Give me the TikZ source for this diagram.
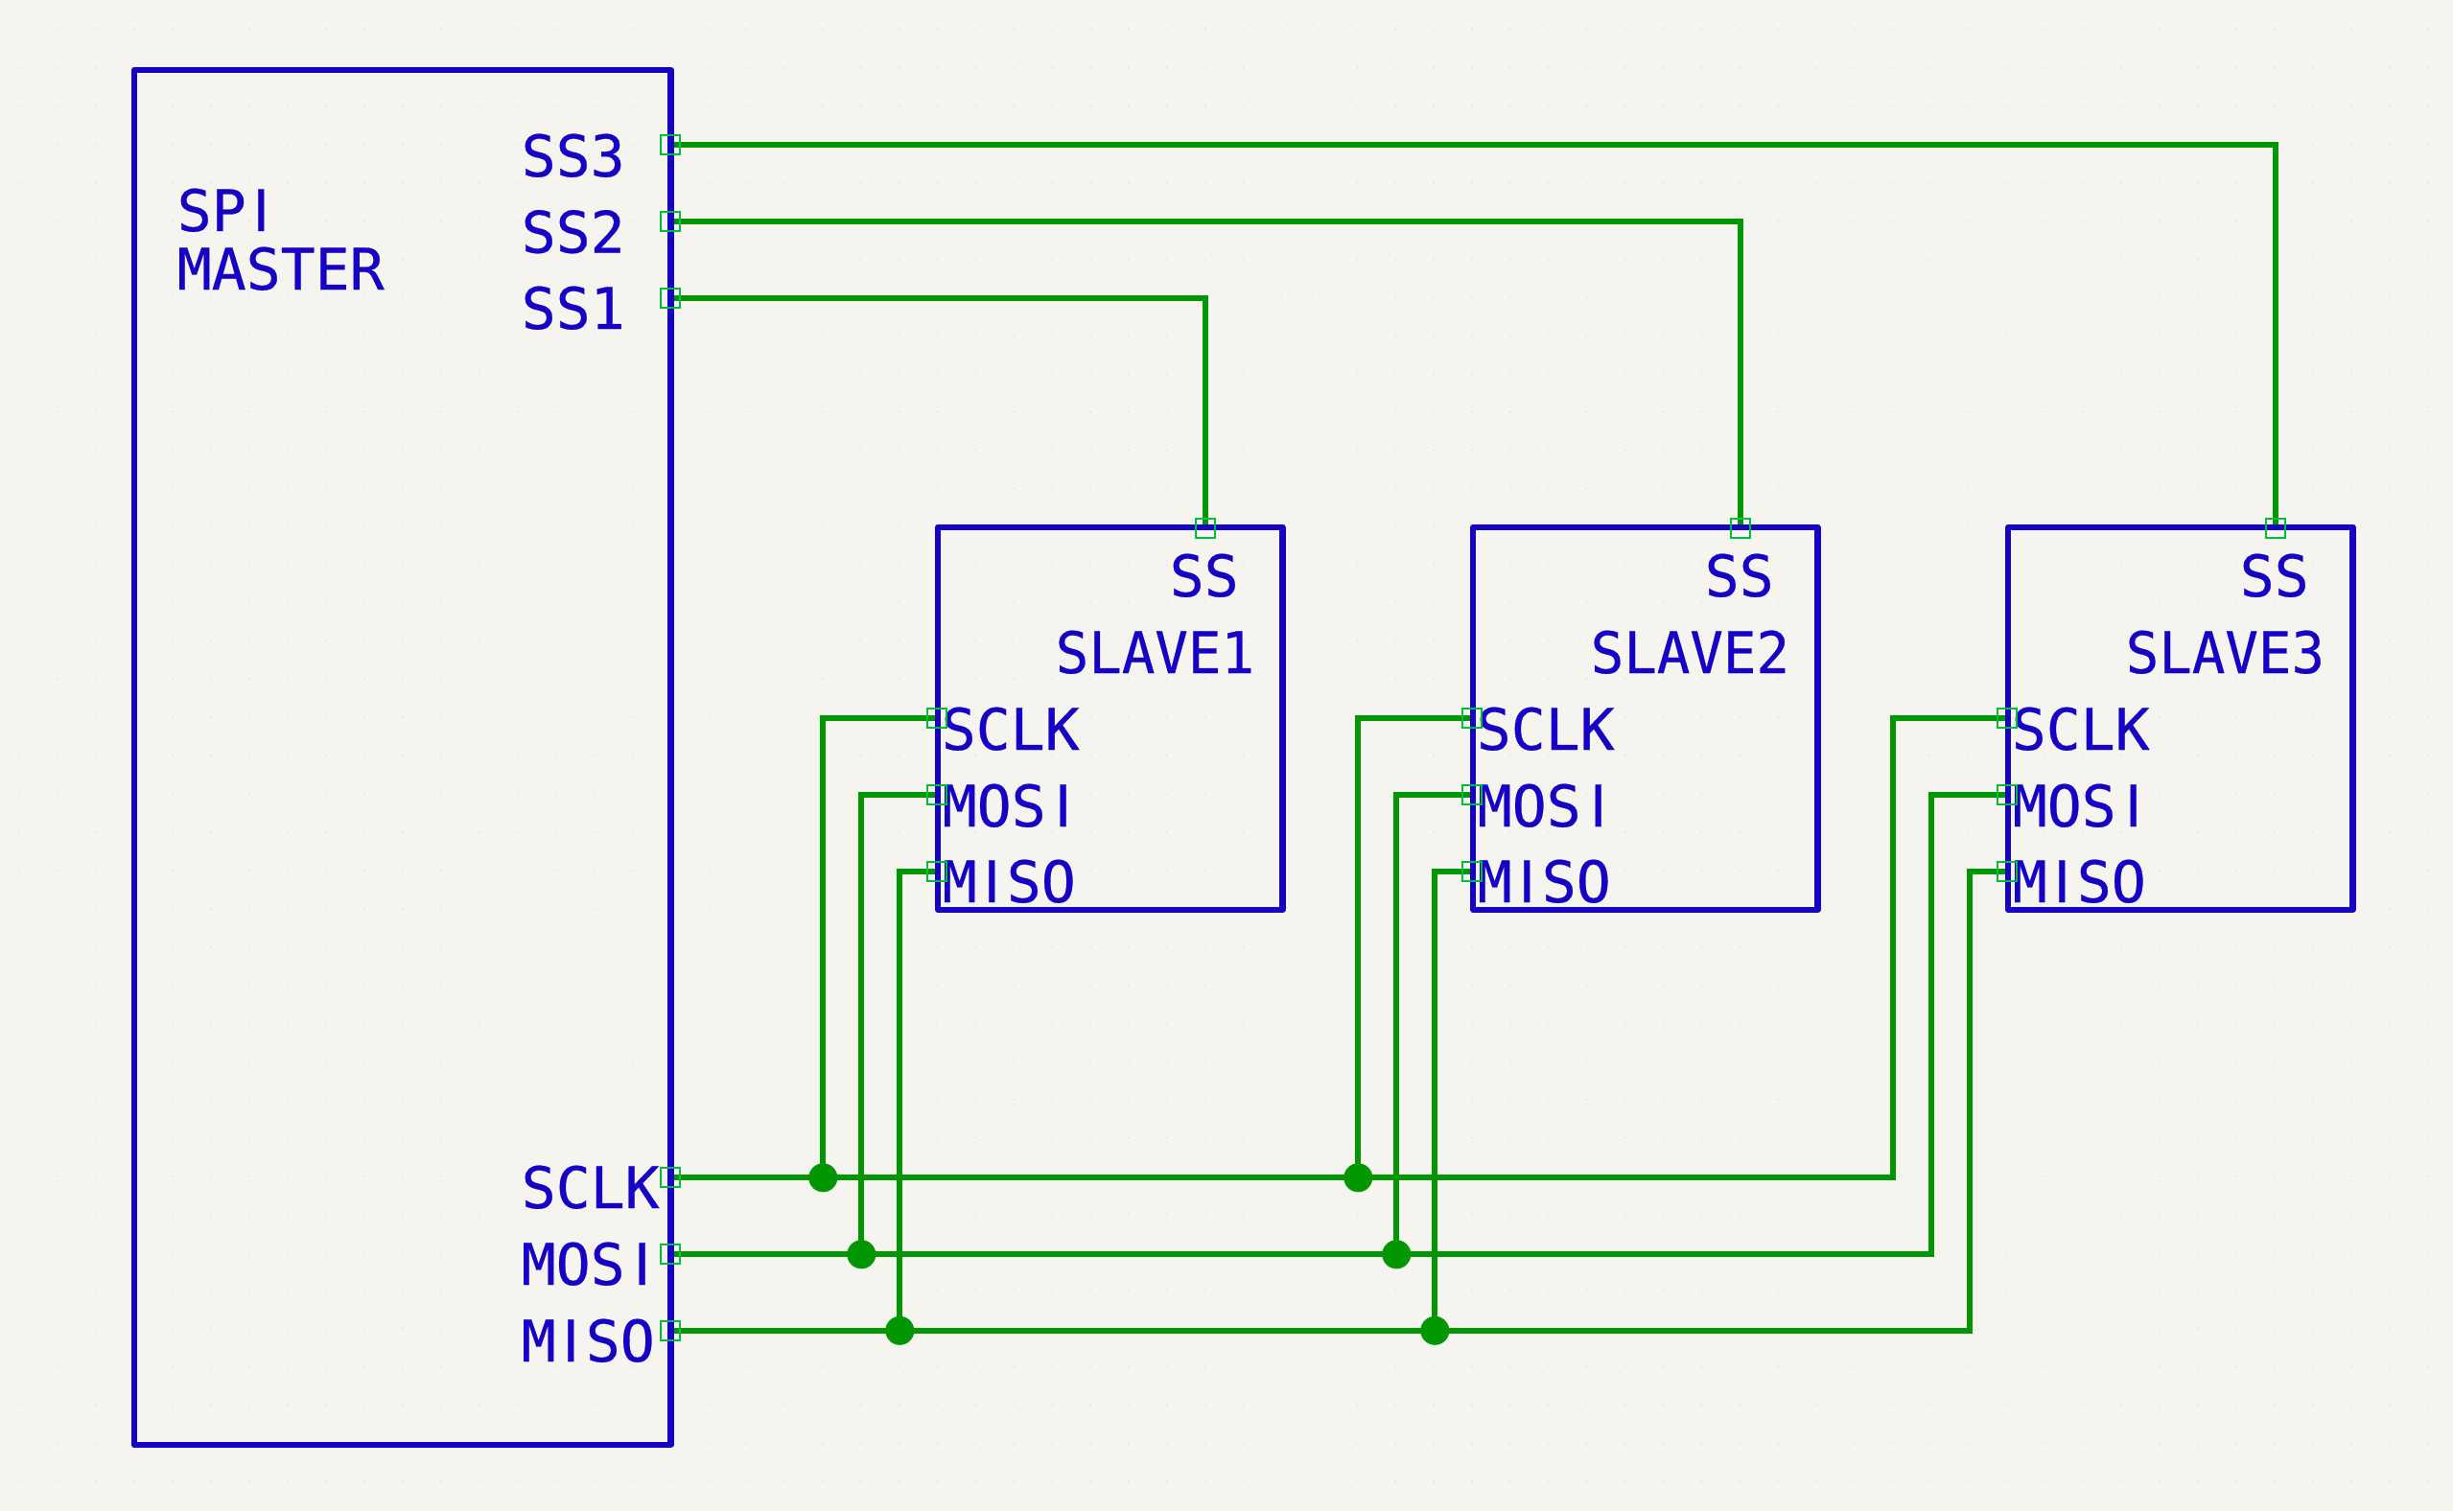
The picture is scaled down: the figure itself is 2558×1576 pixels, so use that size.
\documentclass[tikz,border=0pt]{standalone}
\usepackage{fontspec}
\usetikzlibrary{backgrounds}
\newfontfamily\pinfont[FakeBold=0.45]{DejaVu Sans Mono}
\newfontfamily\slavefont[FakeBold=0.45,FakeStretch=0.96]{DejaVu Sans Mono}
\newfontfamily\plainfont[FakeBold=0.45]{DejaVu Sans}
\newcommand{\plainI}{\makebox[0.602em]{\plainfont I}}
\newcommand{\tightI}{\makebox[0.52em]{\plainfont I}}
\definecolor{paper}{HTML}{F5F4EF}
\definecolor{chipblue}{HTML}{1600C4}
\definecolor{netgreen}{HTML}{009600}
\definecolor{pingreen}{HTML}{00B941}
\definecolor{griddot}{HTML}{D6D5D0}
\tikzset{
	chip/.style={draw=chipblue, line width=1.75pt, line join=round, inner sep=0pt},
	lbl/.style={anchor=base west, inner sep=0pt, text=chipblue, font=\pinfont\fontsize{17}{17}\selectfont},
	slavelbl/.style={lbl, font=\slavefont\fontsize{17}{17}\selectfont},
	pinbox/.style={draw=pingreen, line width=0.6pt, inner sep=0pt, minimum size=0.2cm},
	wire/.style={draw=netgreen, line width=1.65pt},
	junction/.style={circle, fill=netgreen, inner sep=0pt, minimum size=0.3cm}
}
\begin{document}
\begin{tikzpicture}[x=0.01cm, y=-0.01cm]
	\useasboundingbox (0,0) rectangle (2558,1576);

	% master
	\node[chip, minimum width=5.59cm, minimum height=14.33cm] (master) at (419.8,789.8) {};
	\node[lbl] (tspi) at (184,241) {SP\tightI};
	\node[lbl] (tmaster) at (184,302) {MASTER};
	\node[lbl] (tss3) at (543,184) {SS3};
	\node[lbl] (tss2) at (543,263.5) {SS2};
	\node[lbl] (tss1) at (543,343) {SS1};
	\node[lbl] (tsclk) at (543,1260) {SCLK};
	\node[lbl] (tmosi) at (543,1340) {MOS\plainI};
	\node[lbl] (tmiso) at (543,1420) {M\tightI SO};
	\node[pinbox] (mss3) at (698.7,150.8) {};
	\node[pinbox] (mss2) at (698.7,230.8) {};
	\node[pinbox] (mss1) at (698.7,310.8) {};
	\node[pinbox] (msclk) at (698.7,1228.3) {};
	\node[pinbox] (mmosi) at (698.7,1308.3) {};
	\node[pinbox] (mmiso) at (698.7,1387.8) {};

	% slave 1
	\node[chip, minimum width=3.59cm, minimum height=3.99cm] (slave1) at (1157.8,749.3) {};
	\node[lbl] at (1219,622) {SS};
	\node[slavelbl] at (1100,702) {SLAVE1};
	\node[lbl] at (981,782) {SCLK};
	\node[lbl] at (982,862) {MOS\plainI};
	\node[lbl] at (982,941) {M\tightI SO};
	\node[pinbox] (ass) at (1256.8,550.8) {};
	\node[pinbox] (asclk) at (977.3,749.3) {};
	\node[pinbox] (amosi) at (977.3,829.3) {};
	\node[pinbox] (amiso) at (977.3,909.3) {};

	% slave 2
	\node[chip, minimum width=3.59cm, minimum height=3.99cm] (slave2) at (1715.8,749.3) {};
	\node[lbl] at (1777,622) {SS};
	\node[slavelbl] at (1658,702) {SLAVE2};
	\node[lbl] at (1539,782) {SCLK};
	\node[lbl] at (1540,862) {MOS\plainI};
	\node[lbl] at (1540,941) {M\tightI SO};
	\node[pinbox] (bss) at (1814.8,550.8) {};
	\node[pinbox] (bsclk) at (1535.3,749.3) {};
	\node[pinbox] (bmosi) at (1535.3,829.3) {};
	\node[pinbox] (bmiso) at (1535.3,909.3) {};

	% slave 3
	\node[chip, minimum width=3.59cm, minimum height=3.99cm] (slave3) at (2273.8,749.3) {};
	\node[lbl] at (2335,622) {SS};
	\node[slavelbl] at (2216,702) {SLAVE3};
	\node[lbl] at (2097,782) {SCLK};
	\node[lbl] at (2098,862) {MOS\plainI};
	\node[lbl] at (2098,941) {M\tightI SO};
	\node[pinbox] (css) at (2372.8,550.8) {};
	\node[pinbox] (csclk) at (2093.3,749.3) {};
	\node[pinbox] (cmosi) at (2093.3,829.3) {};
	\node[pinbox] (cmiso) at (2093.3,909.3) {};

	% junctions
	\node[junction] (j1) at (858.3,1228.3) {};
	\node[junction] (j2) at (898.3,1308.3) {};
	\node[junction] (j3) at (938.3,1387.8) {};
	\node[junction] (j4) at (1416.3,1228.3) {};
	\node[junction] (j5) at (1456.3,1308.3) {};
	\node[junction] (j6) at (1496.3,1387.8) {};

	\begin{scope}[on background layer]
		\fill[paper] (0,0) rectangle (2558,1576);
		\foreach \gx in {0,...,63} \foreach \gy in {0,...,39}
			\fill[griddot] (21+39.85*\gx,31+39.85*\gy) circle (0.7);

		\path[wire] (mss3.center) -| (css.center);
		\path[wire] (mss2.center) -| (bss.center);
		\path[wire] (mss1.center) -| (ass.center);
		\path[wire] (msclk.center) -- (j1.center) -- (j4.center) -| (1974.3,1000) |- (csclk.center);
		\path[wire] (mmosi.center) -- (j2.center) -- (j5.center) -| (2014.3,1000) |- (cmosi.center);
		\path[wire] (mmiso.center) -- (j3.center) -- (j6.center) -| (2054.3,1000) |- (cmiso.center);
		\path[wire] (j1.center) |- (asclk.center);
		\path[wire] (j2.center) |- (amosi.center);
		\path[wire] (j3.center) |- (amiso.center);
		\path[wire] (j4.center) |- (bsclk.center);
		\path[wire] (j5.center) |- (bmosi.center);
		\path[wire] (j6.center) |- (bmiso.center);
	\end{scope}
\end{tikzpicture}
\end{document}
